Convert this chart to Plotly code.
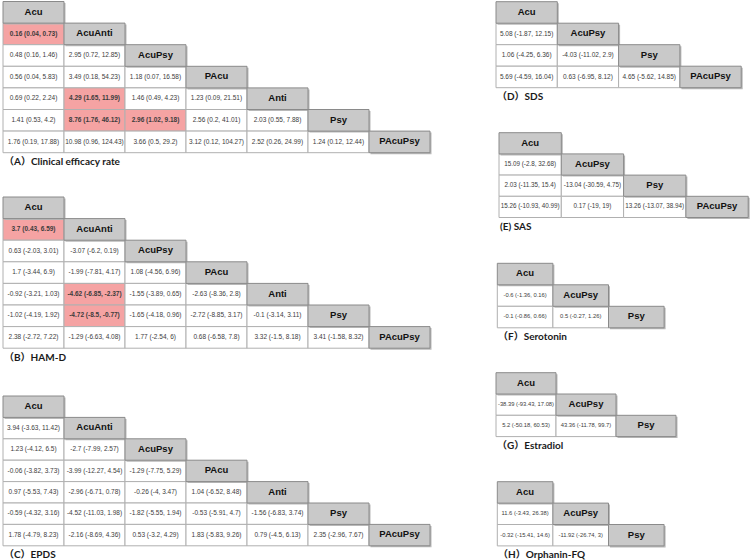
import plotly.graph_objects as go

# ---------------- data ----------------
A_names = ["Acu", "AcuAnti", "AcuPsy", "PAcu", "Anti", "Psy", "PAcuPsy"]
A_est = [[0.16], [0.48, 2.95], [0.56, 3.49, 1.18], [0.69, 4.29, 1.46, 1.23],
         [1.41, 8.76, 2.96, 2.56, 2.03], [1.76, 10.98, 3.66, 3.12, 2.52, 1.24]]
A_lo = [[0.04], [0.16, 0.72], [0.04, 0.18, 0.07], [0.22, 1.65, 0.49, 0.09],
        [0.53, 1.76, 1.02, 0.2, 0.55], [0.19, 0.96, 0.5, 0.12, 0.26, 0.12]]
A_hi = [[0.73], [1.46, 12.85], [5.83, 54.23, 16.58], [2.24, 11.99, 4.23, 21.51],
        [4.2, 46.12, 9.18, 41.01, 7.88], [17.88, 124.43, 29.2, 104.27, 24.99, 12.44]]
A_sig = [(1, 0), (4, 1), (5, 1), (5, 2)]

B_names = ["Acu", "AcuAnti", "AcuPsy", "PAcu", "Anti", "Psy", "PAcuPsy"]
B_est = [[3.7], [0.63, -3.07], [1.7, -1.99, 1.08], [-0.92, -4.62, -1.55, -2.63],
         [-1.02, -4.72, -1.65, -2.72, -0.1], [2.38, -1.29, 1.77, 0.68, 3.32, 3.41]]
B_lo = [[0.43], [-2.03, -6.2], [-3.44, -7.81, -4.56], [-3.21, -6.85, -3.89, -8.36],
        [-4.19, -8.5, -4.18, -8.85, -3.14], [-2.72, -6.63, -2.54, -6.58, -1.5, -1.58]]
B_hi = [[6.59], [3.01, 0.19], [6.9, 4.17, 6.96], [1.03, -2.37, 0.65, 2.8],
        [1.92, -0.77, 0.96, 3.17, 3.11], [7.22, 4.08, 6, 7.8, 8.18, 8.32]]
B_sig = [(1, 0), (4, 1), (5, 1)]

C_names = ["Acu", "AcuAnti", "AcuPsy", "PAcu", "Anti", "Psy", "PAcuPsy"]
C_est = [[3.94], [1.23, -2.7], [-0.06, -3.99, -1.29], [0.97, -2.96, -0.26, 1.04],
         [-0.59, -4.52, -1.82, -0.53, -1.56], [1.78, -2.16, 0.53, 1.83, 0.79, 2.35]]
C_lo = [[-3.63], [-4.12, -7.99], [-3.82, -12.27, -7.75], [-5.53, -6.71, -4, -6.52],
        [-4.32, -11.03, -5.55, -5.91, -6.83], [-4.79, -8.69, -3.2, -5.83, -4.5, -2.96]]
C_hi = [[11.42], [6.5, 2.57], [3.73, 4.54, 5.29], [7.43, 0.78, 3.47, 8.48],
        [3.16, 1.98, 1.94, 4.7, 3.74], [8.23, 4.36, 4.29, 9.26, 6.13, 7.67]]
C_sig = []

D_names = ["Acu", "AcuPsy", "Psy", "PAcuPsy"]
D_est = [[5.08], [1.06, -4.03], [5.69, 0.63, 4.65]]
D_lo = [[-1.87], [-4.25, -11.02], [-4.59, -6.95, -5.62]]
D_hi = [[12.15], [6.36, 2.9], [16.04, 8.12, 14.85]]

E_names = ["Acu", "AcuPsy", "Psy", "PAcuPsy"]
E_est = [[15.09], [2.03, -13.04], [15.26, 0.17, 13.26]]
E_lo = [[-2.8], [-11.35, -30.59], [-10.93, -19, -13.07]]
E_hi = [[32.68], [15.4, 4.75], [40.99, 19, 38.94]]

F_names = ["Acu", "AcuPsy", "Psy"]
F_est = [[-0.6], [-0.1, 0.5]]
F_lo = [[-1.36], [-0.86, -0.27]]
F_hi = [[0.16], [0.66, 1.26]]

G_names = ["Acu", "AcuPsy", "Psy"]
G_est = [[-38.39], [5.2, 43.36]]
G_lo = [[-93.43], [-50.18, -11.78]]
G_hi = [[17.08], [60.53, 99.7]]

H_names = ["Acu", "AcuPsy", "Psy"]
H_est = [[11.6], [-0.32, -11.92]]
H_lo = [[-3.43], [-15.41, -26.74]]
H_hi = [[26.38], [14.6, 3]]

captions = ["（A）Clinical efficacy rate", "（B）HAM-D", "（C）EPDS", "（D）SDS",
            "(E) SAS", "（F）Serotonin", "（G）Estradiol", "（H）Orphanin-FQ"]

# ---------------- layout of the panels ----------------
panels = [
    dict(names=A_names, est=A_est, lo=A_lo, hi=A_hi, sig=A_sig, x0=3, y0=1.5, cw=61, rh=21.6, fs=6.5),
    dict(names=B_names, est=B_est, lo=B_lo, hi=B_hi, sig=B_sig, x0=3, y0=197, cw=61, rh=21.6, fs=6.5),
    dict(names=C_names, est=C_est, lo=C_lo, hi=C_hi, sig=C_sig, x0=3, y0=396, cw=61, rh=21.4, fs=6.5),
    dict(names=D_names, est=D_est, lo=D_lo, hi=D_hi, sig=[], x0=496, y0=1.7, cw=61.3, rh=21.5, fs=6.5),
    dict(names=E_names, est=E_est, lo=E_lo, hi=E_hi, sig=[], x0=499, y0=132.7, cw=62.3, rh=21.2, fs=6.3),
    dict(names=F_names, est=F_est, lo=F_lo, hi=F_hi, sig=[], x0=497.3, y0=263.3, cw=55.6, rh=21.5, fs=5.8),
    dict(names=G_names, est=G_est, lo=G_lo, hi=G_hi, sig=[], x0=496, y0=372.7, cw=60, rh=21.3, fs=5.8),
    dict(names=H_names, est=H_est, lo=H_lo, hi=H_hi, sig=[], x0=497.3, y0=481.7, cw=55.6, rh=21.4, fs=5.8),
]

HEAD_FILL = "#c9c9c9"
HEAD_LINE = "#8a8a8a"
CELL_LINE = "#b0b0b0"
SIG_FILL = "#f5a3a3"


def fmt(v):
    return f"{v:g}"


fig = go.Figure()
shapes = []
annotations = []

for p, cap in zip(panels, captions):
    x0, y0, cw, rh = p["x0"], p["y0"], p["cw"], p["rh"]
    names = p["names"]
    n = len(names)
    cx, cy, ct = [], [], []
    # data cells
    for i in range(1, n):
        for j in range(i):
            e, l, h = p["est"][i - 1][j], p["lo"][i - 1][j], p["hi"][i - 1][j]
            sig = (i, j) in p["sig"]
            shapes.append(dict(type="rect", xref="x", yref="y",
                               x0=x0 + j * cw, x1=x0 + (j + 1) * cw,
                               y0=y0 + i * rh, y1=y0 + (i + 1) * rh,
                               fillcolor=SIG_FILL if sig else "white",
                               line=dict(color=CELL_LINE, width=1), layer="below"))
            txt = f"{fmt(e)} ({fmt(l)}, {fmt(h)})"
            cx.append(x0 + (j + 0.5) * cw)
            cy.append(y0 + (i + 0.5) * rh)
            ct.append(f"<b>{txt}</b>" if sig else txt)
    fig.add_trace(go.Scatter(x=cx, y=cy, text=ct, mode="text", hoverinfo="skip",
                             textfont=dict(family="Liberation Sans, Arial", size=p["fs"], color="#3c3c3c"),
                             showlegend=False, cliponaxis=False))
    # header (diagonal) cells
    hx, hy, ht = [], [], []
    for i in range(n):
        shapes.append(dict(type="rect", xref="x", yref="y",
                           x0=x0 + i * cw + 1.5, x1=x0 + (i + 1) * cw + 1.5,
                           y0=y0 + i * rh + 1.5, y1=y0 + (i + 1) * rh + 1.5,
                           fillcolor="#b8b8b8", line=dict(width=0), layer="below"))
        shapes.append(dict(type="rect", xref="x", yref="y",
                           x0=x0 + i * cw, x1=x0 + (i + 1) * cw,
                           y0=y0 + i * rh, y1=y0 + (i + 1) * rh,
                           fillcolor=HEAD_FILL, line=dict(color=HEAD_LINE, width=1), layer="below"))
        hx.append(x0 + (i + 0.5) * cw)
        hy.append(y0 + (i + 0.5) * rh)
        ht.append(f"<b>{names[i]}</b>")
    fig.add_trace(go.Scatter(x=hx, y=hy, text=ht, mode="text", hoverinfo="skip",
                             textfont=dict(family="Liberation Sans, Arial", size=9.5, color="#111111"),
                             showlegend=False, cliponaxis=False))
    annotations.append(dict(x=x0 - 1, y=y0 + n * rh + 8.5, xref="x", yref="y",
                            text=f"<b>{cap}</b>", showarrow=False, xanchor="left", yanchor="middle",
                            font=dict(family="Lato, Noto Sans CJK SC", size=10, color="#1a1a1a")))

fig.update_layout(
    width=753, height=560,
    margin=dict(l=0, r=0, t=0, b=0),
    paper_bgcolor="white", plot_bgcolor="white",
    xaxis=dict(range=[0, 753], visible=False, fixedrange=True),
    yaxis=dict(range=[560, 0], visible=False, fixedrange=True),
    shapes=shapes, annotations=annotations,
    showlegend=False,
)

fig.write_html("out.html", post_script="document.body.style.margin='0';document.body.style.padding='0';",
               config={"displayModeBar": False})
